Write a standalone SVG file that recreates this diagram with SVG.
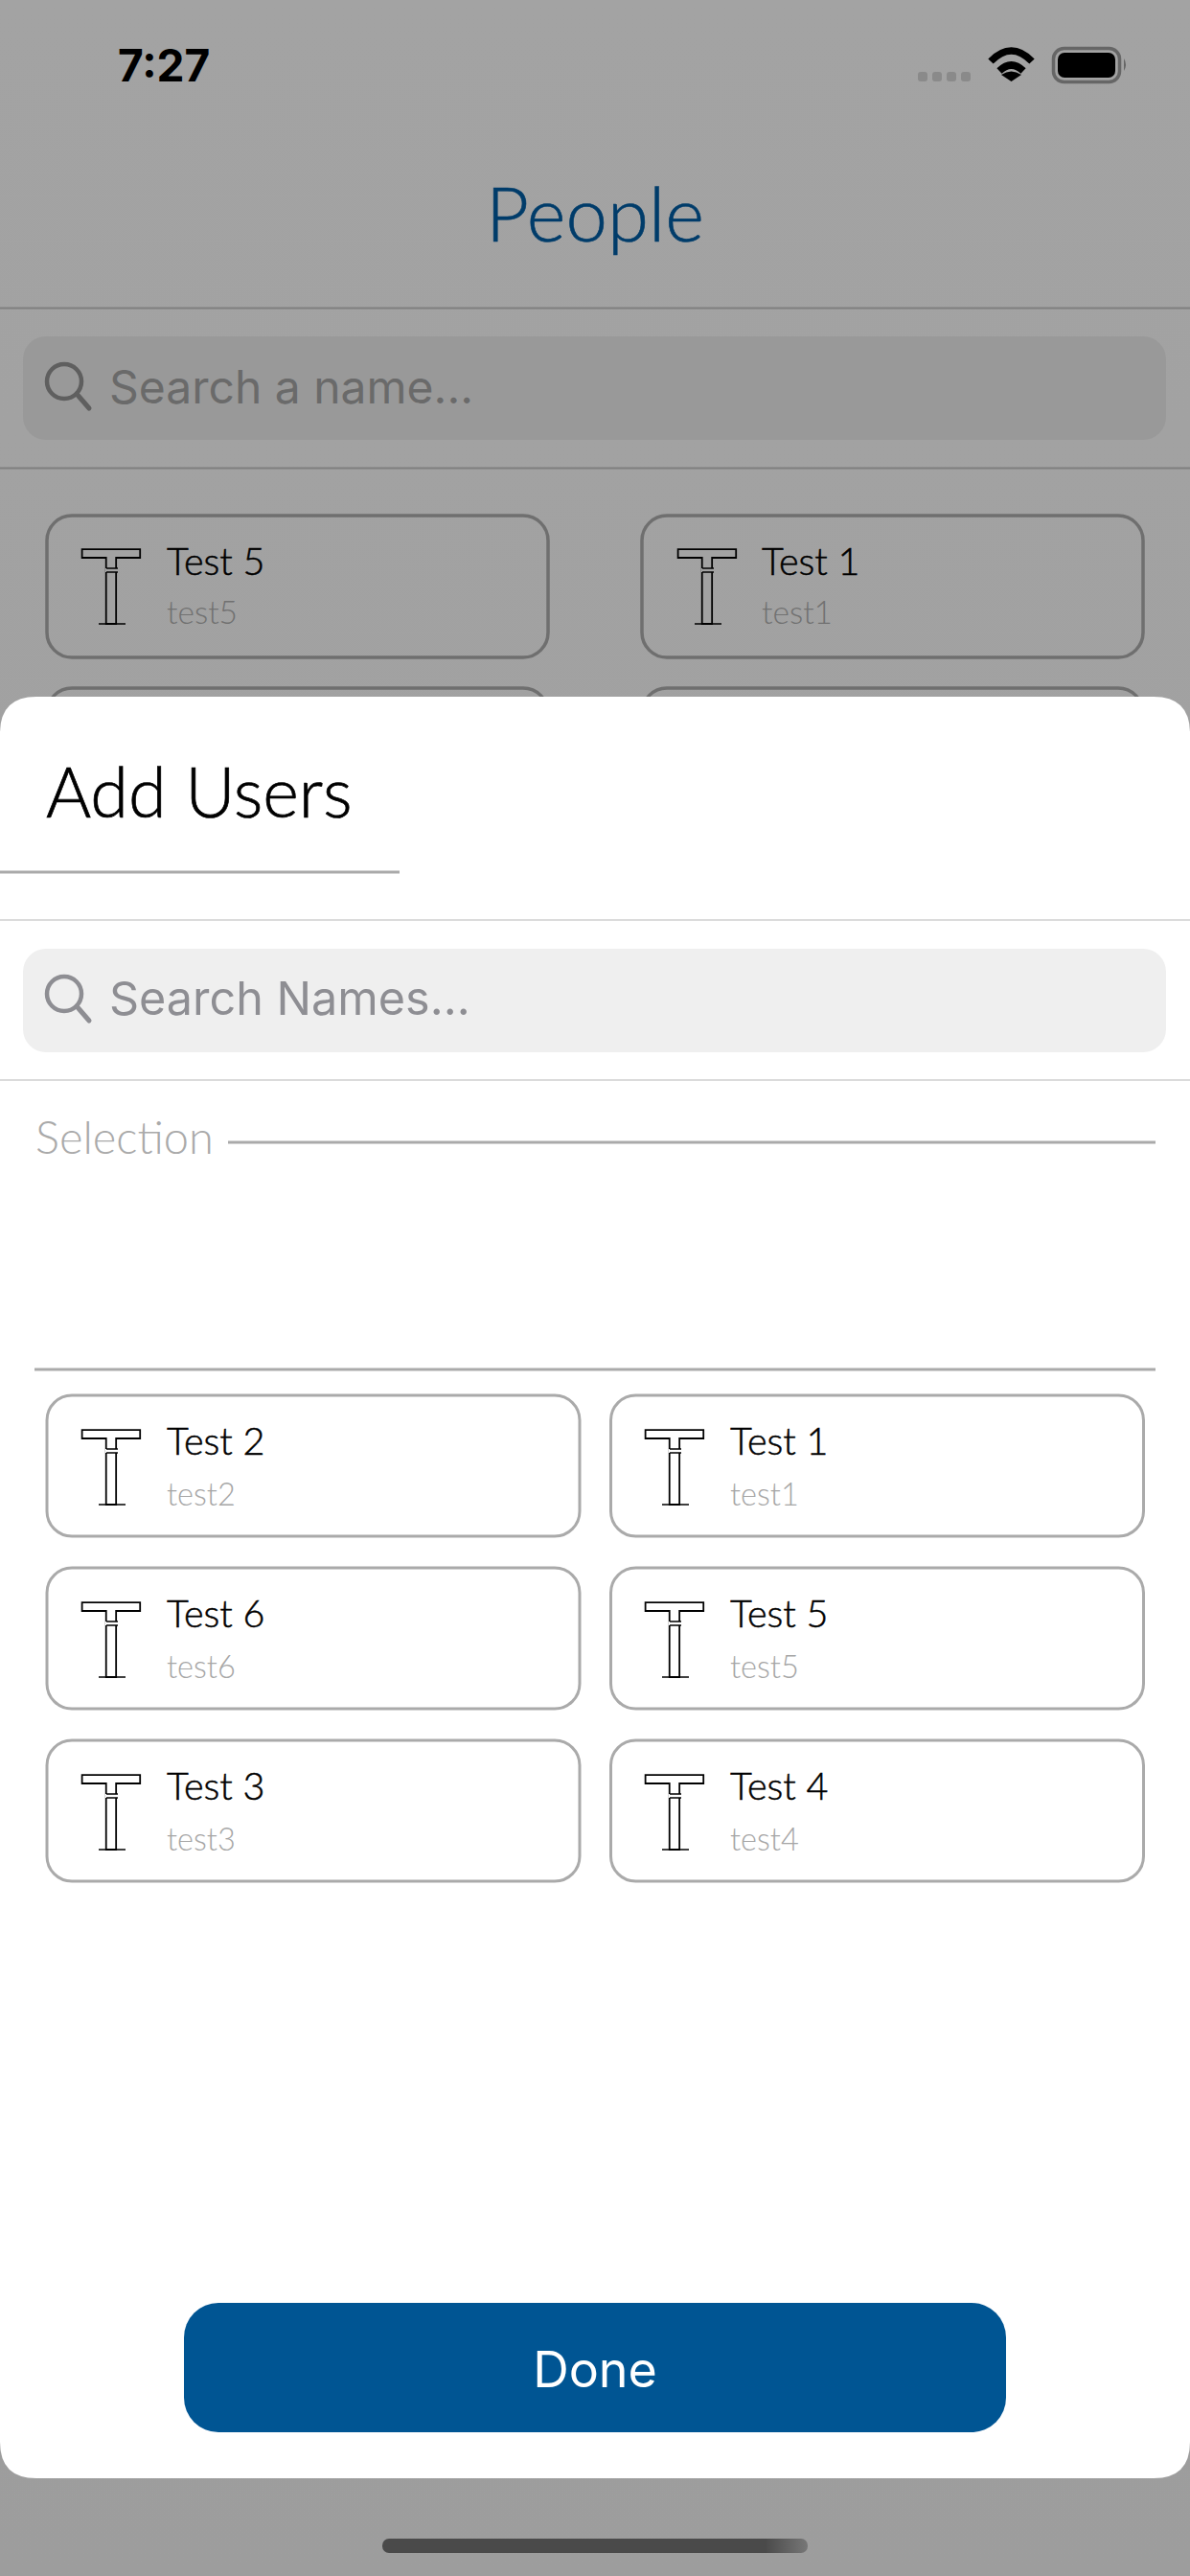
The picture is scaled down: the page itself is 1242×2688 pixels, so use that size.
<svg xmlns="http://www.w3.org/2000/svg" width="1242" height="2688" viewBox="0 0 1242 2688">
<style>
.o{font-family:"Lato","Liberation Sans",sans-serif;font-weight:300}
.s{font-family:"Inter","Liberation Sans",sans-serif;font-weight:400}
.n{font-size:39.500px;fill:#000;stroke:#000;stroke-width:.5px}
.u{font-size:32.500px;fill:#a6a6a6}
.du{font-size:33.500px;fill:#717171}
.card{fill:none;stroke:#aaa;stroke-width:3}
.dcard{fill:none;stroke:#6f6f6f;stroke-width:3.5}
.t{font-family:"Lato","Liberation Sans",sans-serif;font-weight:400;font-size:108px;stroke:#000;stroke-width:1.8}
.tw{fill:#fff}
.td{fill:#a2a2a2}
.rule{stroke:#cfcfcf;stroke-width:1.5}
.drule{stroke:#7f7f7f;stroke-width:2}
.ink{stroke:#aaa;stroke-width:3}
.gap{stroke:#000;stroke-width:1.6;fill:none}
</style>
<defs>
<linearGradient id="bg" x1="0" y1="0" x2="0" y2="1"><stop offset="0" stop-color="#a3a3a3"/><stop offset="1" stop-color="#9d9d9d"/></linearGradient>
<linearGradient id="hm" x1="0" y1="0" x2="1" y2="0"><stop offset="0" stop-color="#4a4a4a"/><stop offset=".9" stop-color="#4a4a4a"/><stop offset="1" stop-color="#777"/></linearGradient>
<clipPath id="above"><rect x="0" y="0" width="1242" height="760"/></clipPath>
</defs>

<g id="backdrop">
<rect width="1242" height="2688" fill="url(#bg)"/>
<line class="drule" x1="0" y1="321.5" x2="1242" y2="321.5"/>
<line class="drule" x1="0" y1="488.5" x2="1242" y2="488.5"/>
</g>

<g id="status-bar">
<text class="s" x="123" y="85" font-size="46" style="font-weight:700" fill="#000">7:27</text>
<g fill="#8a8a8a"><rect x="958" y="75" width="10" height="10" rx="3"/><rect x="973" y="75" width="10" height="10" rx="3"/><rect x="988" y="75" width="10" height="10" rx="3"/><rect x="1003" y="75" width="10" height="10" rx="3"/></g>
<path d="M1034 64Q1055.500 42 1077 64M1043 74Q1055.500 62 1068 74" fill="none" stroke="#000" stroke-width="7.500"/>
<path d="M1045 78Q1055.500 71 1066 78L1055.500 85Z" fill="#000"/>
<rect x="1099.500" y="50.500" width="69" height="35" rx="11" fill="none" stroke="#666" stroke-width="3.500"/>
<rect x="1104" y="55" width="60" height="26" rx="7" fill="#000"/>
<path d="M1173 61Q1177 67.500 1173 74Z" fill="#666"/>
</g>

<g id="title"><text class="o" x="621" y="252" font-size="78" text-anchor="middle" fill="#003c6a" stroke="#003c6a" stroke-width=".6">People</text></g>

<g id="people-search">
<rect x="24" y="351" width="1193" height="108" rx="24" fill="#999"/>
<circle cx="67" cy="398" r="18" fill="none" stroke="#5f5f5f" stroke-width="4.500"/>
<line x1="80" y1="411" x2="93" y2="426" stroke="#5f5f5f" stroke-width="5" stroke-linecap="round"/>
<text class="s" x="114" y="421" font-size="48" fill="#6a6a6a">Search a name...</text>
</g>

<g id="person-test5">
<rect class="dcard" x="49" y="538" width="523" height="148" rx="26"/>
<text class="t td" x="84" y="651">T</text>
<rect class="td" x="110" y="593" width="14" height="4"/><path class="gap" d="M111 593H123M111 597H123M103 651H131"/>
<text class="o n" x="174" y="600">Test 5</text><text class="o du" x="174" y="651">test5</text>
</g>
<g id="person-test1">
<rect class="dcard" x="670" y="538" width="523" height="148" rx="26"/>
<text class="t td" x="706" y="651">T</text>
<rect class="td" x="732" y="593" width="14" height="4"/><path class="gap" d="M733 593H745M733 597H745M725 651H753"/>
<text class="o n" x="795" y="600">Test 1</text><text class="o du" x="795" y="651">test1</text>
</g>
<g id="person-row2" clip-path="url(#above)">
<rect class="dcard" x="49" y="718" width="523" height="148" rx="26"/>
<rect class="dcard" x="670" y="718" width="523" height="148" rx="26"/>
</g>

<g id="sheet">
<path d="M38 727H1204Q1242 727 1242 765V2548Q1242 2586 1204 2586H38Q0 2586 0 2548V765Q0 727 38 727Z" fill="#fff"/>
<text class="o" x="48" y="853" font-size="72" fill="#000" stroke="#000" stroke-width=".7">Add Users</text>
<line class="ink" x1="0" y1="910" x2="417" y2="910"/>
<line class="rule" x1="0" y1="960" x2="1242" y2="960"/>
<line class="rule" x1="0" y1="1127" x2="1242" y2="1127"/>
</g>

<g id="user-search">
<rect x="24" y="990" width="1193" height="108" rx="24" fill="#efefef"/>
<circle cx="67" cy="1037" r="18" fill="none" stroke="#8e8e93" stroke-width="4.500"/>
<line x1="80" y1="1050" x2="93" y2="1065" stroke="#8e8e93" stroke-width="5" stroke-linecap="round"/>
<text class="s" x="114" y="1059" font-size="48.500" fill="#8e8e93">Search Names...</text>
</g>

<g id="selection">
<text class="o" x="37" y="1204" font-size="47" fill="#aaa">Selection</text>
<line class="ink" x1="238" y1="1192" x2="1206" y2="1192"/>
<line class="ink" x1="36" y1="1429" x2="1206" y2="1429"/>
</g>

<g id="user-test2">
<rect class="card" x="49" y="1456" width="556" height="147" rx="26"/>
<text class="t tw" x="84" y="1570">T</text>
<rect class="tw" x="110" y="1512" width="14" height="4"/><path class="gap" d="M111 1512H123M111 1516H123M103 1570H131"/>
<text class="o n" x="174" y="1518">Test 2</text><text class="o u" x="174" y="1571">test2</text>
</g>
<g id="user-test1">
<rect class="card" x="637.500" y="1456" width="556" height="147" rx="26"/>
<text class="t tw" x="672" y="1570">T</text>
<rect class="tw" x="698" y="1512" width="14" height="4"/><path class="gap" d="M699 1512H711M699 1516H711M691 1570H719"/>
<text class="o n" x="762" y="1518">Test 1</text><text class="o u" x="762" y="1571">test1</text>
</g>
<g id="user-test6">
<rect class="card" x="49" y="1636" width="556" height="147" rx="26"/>
<text class="t tw" x="84" y="1750">T</text>
<rect class="tw" x="110" y="1692" width="14" height="4"/><path class="gap" d="M111 1692H123M111 1696H123M103 1750H131"/>
<text class="o n" x="174" y="1698">Test 6</text><text class="o u" x="174" y="1751">test6</text>
</g>
<g id="user-test5">
<rect class="card" x="637.500" y="1636" width="556" height="147" rx="26"/>
<text class="t tw" x="672" y="1750">T</text>
<rect class="tw" x="698" y="1692" width="14" height="4"/><path class="gap" d="M699 1692H711M699 1696H711M691 1750H719"/>
<text class="o n" x="762" y="1698">Test 5</text><text class="o u" x="762" y="1751">test5</text>
</g>
<g id="user-test3">
<rect class="card" x="49" y="1816" width="556" height="147" rx="26"/>
<text class="t tw" x="84" y="1930">T</text>
<rect class="tw" x="110" y="1872" width="14" height="4"/><path class="gap" d="M111 1872H123M111 1876H123M103 1930H131"/>
<text class="o n" x="174" y="1878">Test 3</text><text class="o u" x="174" y="1931">test3</text>
</g>
<g id="user-test4">
<rect class="card" x="637.500" y="1816" width="556" height="147" rx="26"/>
<text class="t tw" x="672" y="1930">T</text>
<rect class="tw" x="698" y="1872" width="14" height="4"/><path class="gap" d="M699 1872H711M699 1876H711M691 1930H719"/>
<text class="o n" x="762" y="1878">Test 4</text><text class="o u" x="762" y="1931">test4</text>
</g>

<g id="done-button">
<rect x="192" y="2403" width="858" height="135" rx="36" fill="#005593"/>
<text class="s" x="621" y="2491" font-size="52" text-anchor="middle" fill="#fff">Done</text>
</g>

<g id="connectors"/>
<g id="home-indicator"><rect x="399" y="2649" width="444" height="15" rx="7" fill="url(#hm)"/></g>
</svg>
